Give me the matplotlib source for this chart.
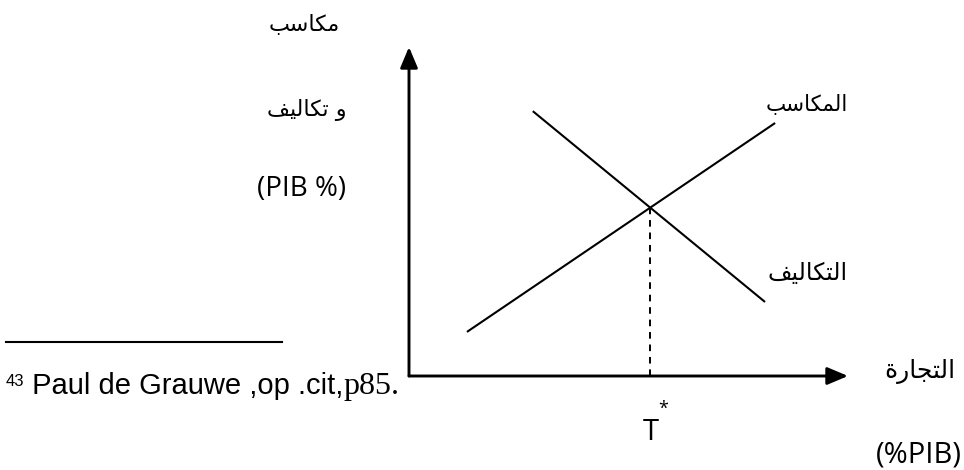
import matplotlib
matplotlib.use("Agg")
import matplotlib.pyplot as plt
import numpy as np

# ---- data (conceptual units) ----
gains_trade = [1.32, 8.34]
gains_values = [1.34, 7.69]
costs_trade = [2.82, 8.11]
costs_values = [8.05, 2.25]

# Arabic labels (presentation forms, visual order)
lbl_y1 = "\uFE90\uFEB3\uFE8E\uFEDC\uFEE3"                      # مكاسب
lbl_y2 = "\uFED2\uFEF4\uFEDF\uFE8E\uFEDC\uFE97 \uFEED"          # و تكاليف
lbl_y3 = "(PIB %)"
lbl_gains = "\uFE90\uFEB3\uFE8E\uFEDC\uFEE4\uFEDF\uFE8D"        # المكاسب
lbl_costs = "\uFED2\uFEF4\uFEDF\uFE8E\uFEDC\uFE98\uFEDF\uFE8D"  # التكاليف
lbl_x1 = "\uFE93\uFEAD\uFE8E\uFEA0\uFE98\uFEDF\uFE8D"           # التجارة
lbl_x2 = "(%PIB)"
lbl_t = "T"
footnote_num = "43"
footnote_txt = " Paul de Grauwe ,op .cit,"
footnote_page = "p85."

W, H = 964, 470
fig = plt.figure(figsize=(W / 100, H / 100), dpi=100)
fig.patch.set_facecolor("white")


def fx(x):
    return x / W


def fy(y):
    return 1 - y / H


# axes occupying the chart region
x0, y0, x1, y1 = 409, 376, 848, 47
ax = fig.add_axes([fx(x0), fy(y0), (x1 - x0) / W, (y0 - y1) / H])
ax.set_xlim(0, 10)
ax.set_ylim(0, 10)
ax.axis("off")

arrow = dict(arrowstyle="-|>,head_length=0.9,head_width=0.38", lw=2.1,
             color="black", shrinkA=0, shrinkB=0, mutation_scale=14)
ax.annotate("", xy=(1, 0), xytext=(0, 0), xycoords="axes fraction", arrowprops=arrow)
ax.annotate("", xy=(0, 1), xytext=(0, 0), xycoords="axes fraction", arrowprops=arrow)

ax.plot(gains_trade, gains_values, color="black", lw=1.5, clip_on=False,
        solid_capstyle="butt")
ax.plot(costs_trade, costs_values, color="black", lw=1.5, clip_on=False,
        solid_capstyle="butt")

# intersection
m1 = (gains_values[1] - gains_values[0]) / (gains_trade[1] - gains_trade[0])
m2 = (costs_values[1] - costs_values[0]) / (costs_trade[1] - costs_trade[0])
b1 = gains_values[0] - m1 * gains_trade[0]
b2 = costs_values[0] - m2 * costs_trade[0]
t_star = (b2 - b1) / (m1 - m2)
y_star = m1 * t_star + b1
ax.plot([t_star, t_star], [0, y_star], color="black", lw=1.4,
        dashes=(3.4, 3.0), clip_on=False)

arab = ["DejaVu Sans"]
lat = ["Open Sans", "DejaVu Sans"]

fig.text(fx(340), fy(24), lbl_y1, family=arab, fontsize=16, ha="right", va="center")
fig.text(fx(347), fy(110), lbl_y2, family=arab, fontsize=16, ha="right", va="center")
fig.text(fx(346), fy(189), lbl_y3, family=lat, fontsize=20, ha="right", va="center")
fig.text(fx(848), fy(104), lbl_gains, family=arab, fontsize=15.5, ha="right", va="center")
fig.text(fx(848), fy(273), lbl_costs, family=arab, fontsize=17, ha="right", va="center")
fig.text(fx(955), fy(372), lbl_x1, family=arab, fontsize=18, ha="right", va="center")
fig.text(fx(962), fy(455), lbl_x2, family=lat, fontsize=21, ha="right", va="center")

# T*
px_t = x0 + (x1 - x0) * t_star / 10
fig.text(fx(px_t + 1), fy(440), lbl_t, family=lat, fontsize=21, ha="center", va="baseline")
fig.text(fx(px_t + 13), fy(414), "*", family=lat, fontsize=13, ha="center", va="baseline")

# footnote separator
fig.add_artist(plt.Line2D([fx(6), fx(282)], [fy(342), fy(342)], color="black", lw=1.5))

# footnote text chained
fig.canvas.draw()
r = fig.canvas.get_renderer()
t1 = fig.text(fx(6), fy(386), footnote_num, family=["Liberation Sans"], fontsize=12,
              va="baseline", ha="left")
bb = t1.get_window_extent(r)
t2 = fig.text(bb.x1 / W, fy(394), footnote_txt, family=["Liberation Sans"], fontsize=21,
              va="baseline", ha="left")
bb2 = t2.get_window_extent(r)
fig.text(bb2.x1 / W, fy(394), footnote_page, family=["Liberation Serif"], fontsize=23,
         va="baseline", ha="left")

fig.savefig("out.png", dpi=100, facecolor="white")
